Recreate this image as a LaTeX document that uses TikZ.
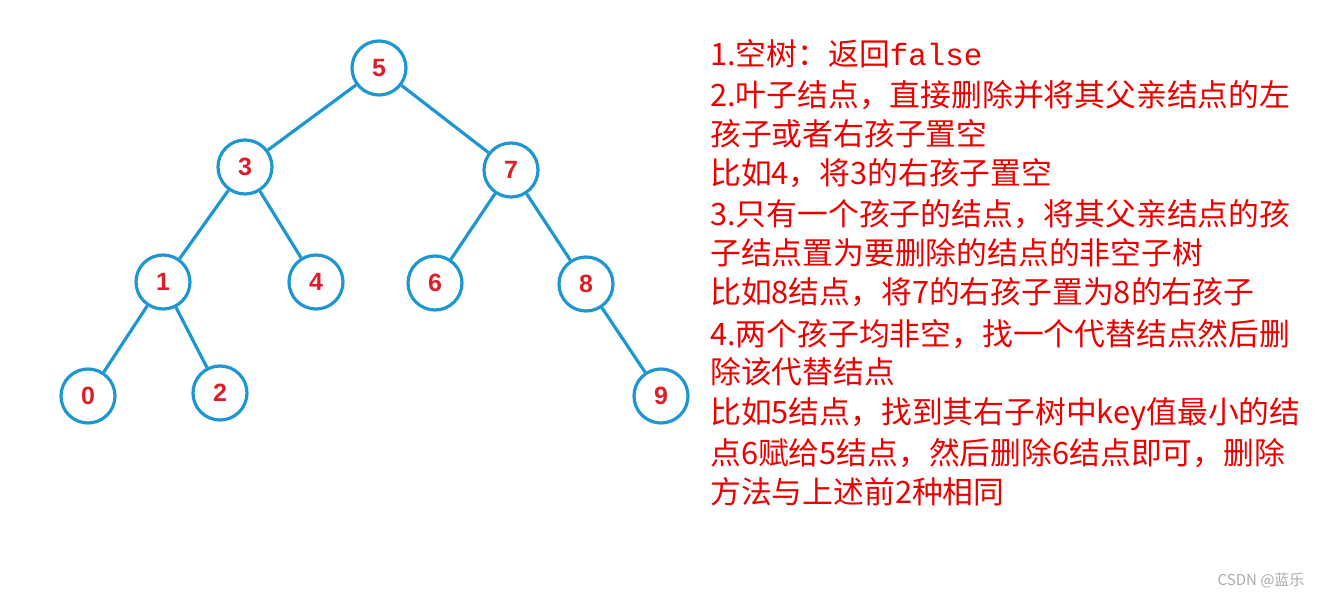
\documentclass[tikz,border=0pt]{standalone}
\usepackage{fontspec}
\setsansfont{Liberation Sans}
\newfontfamily\cjk{Noto Sans CJK SC}
\newfontfamily\monof{Liberation Mono}
\begin{document}
\begin{tikzpicture}[x=1pt,y=-1pt,
  tn/.style={circle,draw={rgb,255:red,30;green,150;blue,210},line width=3.2pt,minimum size=54pt,inner sep=0pt,text={rgb,255:red,220;green,30;blue,40},font=\sffamily\bfseries\fontsize{25}{25}\selectfont},
  ed/.style={draw={rgb,255:red,30;green,150;blue,210},line width=3.2pt},
  tl/.style={anchor=base west,inner sep=0pt,text={rgb,255:red,235;green,0;blue,0},font=\cjk\fontsize{30.8}{32}\selectfont}]
\useasboundingbox (0,0) rectangle (1322,601);
\node[tn] (n5) at (379,68) {5};
\node[tn] (n3) at (245,167) {3};
\node[tn] (n7) at (511,170) {7};
\node[tn] (n1) at (163,282) {1};
\node[tn] (n4) at (316,282) {4};
\node[tn] (n6) at (435,283) {6};
\node[tn] (n8) at (586,284) {8};
\node[tn] (n0) at (88,396) {0};
\node[tn] (n2) at (220,393) {2};
\node[tn] (n9) at (661,396) {9};
\foreach \a/\b in {n5/n3,n5/n7,n3/n1,n3/n4,n7/n6,n7/n8,n1/n0,n1/n2,n8/n9}
  \draw[ed] (\a) -- (\b);
\node[tl] (t1) at (710,66) {1.空树：返回{\monof false}};
\node[tl] (t2) at (710,107) {2.叶子结点，直接删除并将其父亲结点的左};
\node[tl] (t3) at (710,146) {孩子或者右孩子置空};
\node[tl] (t4) at (710,185) {比如4，将3的右孩子置空};
\node[tl] (t5) at (710,226) {3.只有一个孩子的结点，将其父亲结点的孩};
\node[tl] (t6) at (710,265) {子结点置为要删除的结点的非空子树};
\node[tl] (t7) at (710,304) {比如8结点，将7的右孩子置为8的右孩子};
\node[tl] (t8) at (710,345) {4.两个孩子均非空，找一个代替结点然后删};
\node[tl] (t9) at (710,384) {除该代替结点};
\node[tl] (t10) at (710,423) {比如5结点，找到其右子树中key值最小的结};
\node[tl] (t11) at (710,464) {点6赋给5结点，然后删除6结点即可，删除};
\node[tl] (t12) at (710,503) {方法与上述前2种相同};
\node[anchor=east,text={rgb,255:red,170;green,170;blue,170},font=\cjk\fontsize{15}{15}\selectfont] (wm) at (1308,580) {CSDN @蓝乐};
\end{tikzpicture}
\end{document}
